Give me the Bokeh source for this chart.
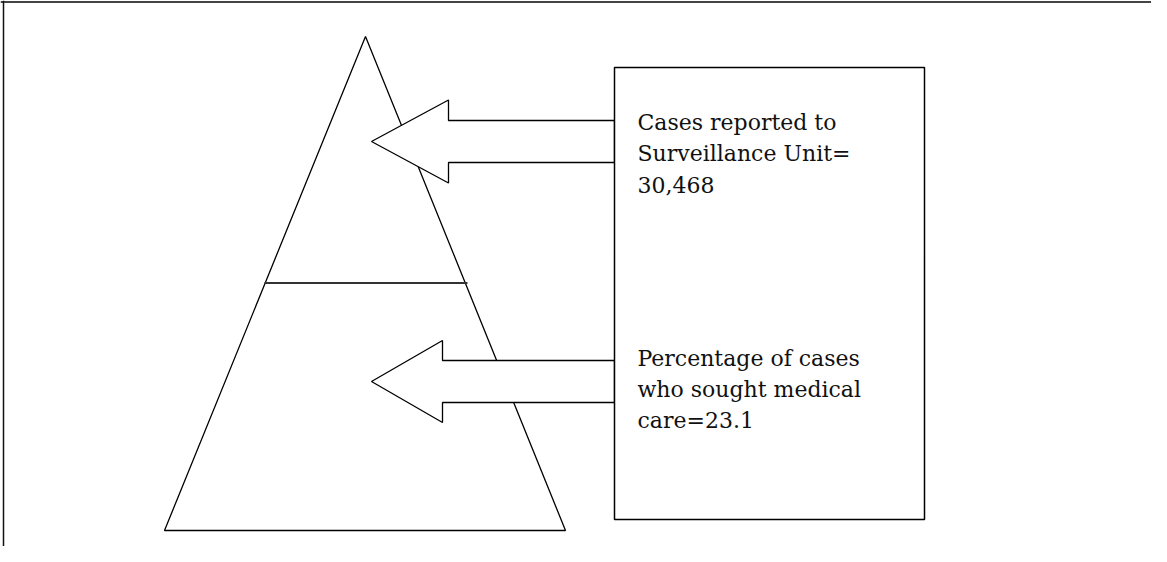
from bokeh.plotting import figure
from bokeh.models import Range1d
from bokeh.embed import file_html
from bokeh.resources import INLINE
from bokeh.core.properties import value

# ---- canvas ----
W, H = 1151, 546
OX, OY = 0, 0

# ---- pyramid ----
pyramid_x = [365, 164, 565]
pyramid_y = [36, 530, 530]
divider_x = [264, 467]
divider_y = [282.5, 282.5]

# ---- text box ----
box_left = [614]
box_right = [924]
box_top = [67]
box_bottom = [519]

# ---- arrows (pointing from box into pyramid levels) ----
arrow_tip_x = [371, 371]
arrow_tip_y = [141, 381]
arrow_head_x = [448, 442]
arrow_head_half = [41.5, 41]
arrow_shaft_half = [21, 21]

# ---- labels ----
labels = [
    ["Cases reported to", "Surveillance Unit=", "30,468"],
    ["Percentage of cases", "who sought medical", "care=23.1"],
]
label_x = 637
label_first_baseline = [122, 358]
line_step = 31

p = figure(width=W, height=H, output_backend="svg", toolbar_location=None,
           x_range=Range1d(OX, OX + W), y_range=Range1d(OY + H, OY),
           min_border=0, background_fill_color="white", border_fill_color="white")
p.axis.visible = False
p.grid.visible = False
p.outline_line_color = None

# frame lines (top and left)
p.segment(x0=[0, 3], y0=[1.5, 0], x1=[W, 3], y1=[1.5, H],
          line_color=["#444444", "#111111"], line_width=[2, 1.5])

# pyramid
p.patch(pyramid_x, pyramid_y, fill_color=None, line_color="black", line_width=1.3)
p.line(divider_x, divider_y, line_color="#333333", line_width=1.8)

# arrows
xs, ys = [], []
for tx, ty, hx, hh, sh in zip(arrow_tip_x, arrow_tip_y, arrow_head_x, arrow_head_half, arrow_shaft_half):
    xs.append([tx, hx, hx, box_left[0], box_left[0], hx, hx])
    ys.append([ty, ty - hh, ty - sh, ty - sh, ty + sh, ty + sh, ty + hh])
p.patches(xs, ys, fill_color="white", line_color="black", line_width=1.3)

# box
p.quad(left=box_left, right=box_right, top=box_top, bottom=box_bottom,
       fill_color="white", line_color="black", line_width=1.5)

# text
tx, ty, tt = [], [], []
for block, base in zip(labels, label_first_baseline):
    for i, line in enumerate(block):
        tx.append(label_x)
        ty.append(base + i * line_step)
        tt.append(line)
p.text(x=tx, y=ty, text=tt, text_font=value("DejaVu Serif"), text_font_size="22px",
       text_baseline="alphabetic", text_align="left", text_color="#111111")

open("out.html", "w").write(file_html(p, INLINE))
